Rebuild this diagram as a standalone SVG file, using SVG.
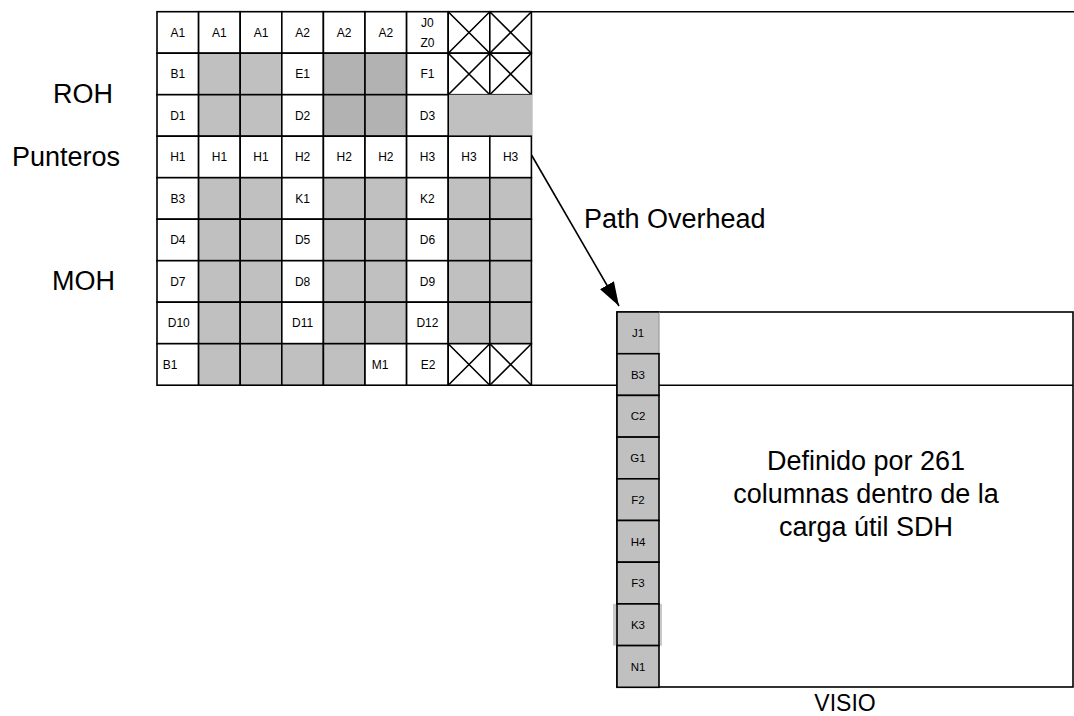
<svg xmlns="http://www.w3.org/2000/svg" width="1074" height="716" viewBox="0 0 1074 716">
<defs>
<style>
.c{stroke:#000;stroke-width:1.6;fill:#fff}
.g{stroke:#000;stroke-width:1.6;fill:#c0c0c0}
.d{stroke:#000;stroke-width:1.6;fill:#b2b2b2}
.x{stroke:#000;stroke-width:1.6;fill:none}
.t{font-family:"Liberation Sans",Arial,sans-serif;font-size:12px;fill:#000;text-anchor:middle}
.s{font-family:"Liberation Sans",Arial,sans-serif;font-size:11.5px;fill:#000;text-anchor:middle}
.b{font-family:"Liberation Sans",Arial,sans-serif;font-size:27px;fill:#000}
.ln{stroke:#000;stroke-width:1.6;fill:none}
</style>
<marker id="ah" markerUnits="userSpaceOnUse" markerWidth="24" markerHeight="16" refX="24" refY="8" orient="auto">
<path d="M0,0 L24,8 L0,16 z" fill="#000"/>
</marker>
</defs>
<rect width="1074" height="716" fill="#fff"/>

<g id="labels-left">
<text class="b" x="53" y="103">ROH</text>
<text class="b" x="12" y="166">Punteros</text>
<text class="b" x="52" y="290">MOH</text>
</g>

<g id="payload">
<rect class="c" x="617" y="312" width="456" height="375"/>
<text class="b" x="866" y="470" text-anchor="middle">Definido por 261</text>
<text class="b" x="866" y="503" text-anchor="middle">columnas dentro de la</text>
<text class="b" x="866" y="536" text-anchor="middle">carga útil SDH</text>
</g>

<g id="connectors">
<line class="ln" x1="531.4" y1="11.7" x2="1074" y2="11.7"/>
<line class="ln" x1="531.4" y1="385.2" x2="1073" y2="385.2"/>
<line class="ln" x1="531.5" y1="155" x2="619" y2="306" marker-end="url(#ah)"/>
<text class="b" x="584" y="228">Path Overhead</text>
</g>

<g id="grid">
<!-- row 0 -->
<g id="r0">
<rect class="c" x="157" y="11.7" width="41.6" height="41.5"/><text class="t" x="177.8" y="36.8">A1</text>
<rect class="c" x="198.6" y="11.7" width="41.6" height="41.5"/><text class="t" x="219.4" y="36.8">A1</text>
<rect class="c" x="240.2" y="11.7" width="41.6" height="41.5"/><text class="t" x="261" y="36.8">A1</text>
<rect class="c" x="281.8" y="11.7" width="41.6" height="41.5"/><text class="t" x="302.6" y="36.8">A2</text>
<rect class="c" x="323.4" y="11.7" width="41.6" height="41.5"/><text class="t" x="344.2" y="36.8">A2</text>
<rect class="c" x="365" y="11.7" width="41.6" height="41.5"/><text class="t" x="385.8" y="36.8">A2</text>
<rect class="c" x="406.6" y="11.7" width="41.6" height="41.5"/><text class="t" x="427.4" y="26.5">J0</text><text class="t" x="427.4" y="46.8">Z0</text>
<rect class="c" x="448.2" y="11.7" width="41.6" height="41.5"/><path class="x" d="M448.2,11.7 L489.8,53.2 M489.8,11.7 L448.2,53.2"/>
<rect class="c" x="489.8" y="11.7" width="41.6" height="41.5"/><path class="x" d="M489.8,11.7 L531.4,53.2 M531.4,11.7 L489.8,53.2"/>
</g>
<!-- row 1 -->
<g id="r1">
<rect class="c" x="157" y="53.2" width="41.6" height="41.5"/><text class="t" x="177.8" y="78.3">B1</text>
<rect class="g" x="198.6" y="53.2" width="41.6" height="41.5"/>
<rect class="g" x="240.2" y="53.2" width="41.6" height="41.5"/>
<rect class="c" x="281.8" y="53.2" width="41.6" height="41.5"/><text class="t" x="302.6" y="78.3">E1</text>
<rect class="d" x="323.4" y="53.2" width="41.6" height="41.5"/>
<rect class="d" x="365" y="53.2" width="41.6" height="41.5"/>
<rect class="c" x="406.6" y="53.2" width="41.6" height="41.5"/><text class="t" x="427.4" y="78.3">F1</text>
<rect class="c" x="448.2" y="53.2" width="41.6" height="41.5"/><path class="x" d="M448.2,53.2 L489.8,94.7 M489.8,53.2 L448.2,94.7"/>
<rect class="c" x="489.8" y="53.2" width="41.6" height="41.5"/><path class="x" d="M489.8,53.2 L531.4,94.7 M531.4,53.2 L489.8,94.7"/>
</g>
<!-- row 2 -->
<g id="r2">
<rect x="448.2" y="94.7" width="84.5" height="41.5" fill="#c0c0c0"/>
<rect class="c" x="157" y="94.7" width="41.6" height="41.5"/><text class="t" x="177.8" y="119.8">D1</text>
<rect class="g" x="198.6" y="94.7" width="41.6" height="41.5"/>
<rect class="g" x="240.2" y="94.7" width="41.6" height="41.5"/>
<rect class="c" x="281.8" y="94.7" width="41.6" height="41.5"/><text class="t" x="302.6" y="119.8">D2</text>
<rect class="d" x="323.4" y="94.7" width="41.6" height="41.5"/>
<rect class="d" x="365" y="94.7" width="41.6" height="41.5"/>
<rect class="c" x="406.6" y="94.7" width="41.6" height="41.5"/><text class="t" x="427.4" y="119.8">D3</text>
</g>
<!-- row 3 -->
<g id="r3">
<rect class="c" x="157" y="136.2" width="41.6" height="41.5"/><text class="t" x="177.8" y="161.3">H1</text>
<rect class="c" x="198.6" y="136.2" width="41.6" height="41.5"/><text class="t" x="219.4" y="161.3">H1</text>
<rect class="c" x="240.2" y="136.2" width="41.6" height="41.5"/><text class="t" x="261" y="161.3">H1</text>
<rect class="c" x="281.8" y="136.2" width="41.6" height="41.5"/><text class="t" x="302.6" y="161.3">H2</text>
<rect class="c" x="323.4" y="136.2" width="41.6" height="41.5"/><text class="t" x="344.2" y="161.3">H2</text>
<rect class="c" x="365" y="136.2" width="41.6" height="41.5"/><text class="t" x="385.8" y="161.3">H2</text>
<rect class="c" x="406.6" y="136.2" width="41.6" height="41.5"/><text class="t" x="427.4" y="161.3">H3</text>
<rect class="c" x="448.2" y="136.2" width="41.6" height="41.5"/><text class="t" x="469" y="161.3">H3</text>
<rect class="c" x="489.8" y="136.2" width="41.6" height="41.5"/><text class="t" x="510.6" y="161.3">H3</text>
</g>
<!-- rows 4-7 -->
<g id="r4">
<rect class="c" x="157" y="177.7" width="41.6" height="41.5"/><text class="t" x="177.8" y="202.8">B3</text>
<rect class="g" x="198.6" y="177.7" width="41.6" height="41.5"/>
<rect class="g" x="240.2" y="177.7" width="41.6" height="41.5"/>
<rect class="c" x="281.8" y="177.7" width="41.6" height="41.5"/><text class="t" x="302.6" y="202.8">K1</text>
<rect class="g" x="323.4" y="177.7" width="41.6" height="41.5"/>
<rect class="g" x="365" y="177.7" width="41.6" height="41.5"/>
<rect class="c" x="406.6" y="177.7" width="41.6" height="41.5"/><text class="t" x="427.4" y="202.8">K2</text>
<rect class="g" x="448.2" y="177.7" width="41.6" height="41.5"/>
<rect class="g" x="489.8" y="177.7" width="41.6" height="41.5"/>
</g>
<g id="r5">
<rect class="c" x="157" y="219.2" width="41.6" height="41.5"/><text class="t" x="177.8" y="244.3">D4</text>
<rect class="g" x="198.6" y="219.2" width="41.6" height="41.5"/>
<rect class="g" x="240.2" y="219.2" width="41.6" height="41.5"/>
<rect class="c" x="281.8" y="219.2" width="41.6" height="41.5"/><text class="t" x="302.6" y="244.3">D5</text>
<rect class="g" x="323.4" y="219.2" width="41.6" height="41.5"/>
<rect class="g" x="365" y="219.2" width="41.6" height="41.5"/>
<rect class="c" x="406.6" y="219.2" width="41.6" height="41.5"/><text class="t" x="427.4" y="244.3">D6</text>
<rect class="g" x="448.2" y="219.2" width="41.6" height="41.5"/>
<rect class="g" x="489.8" y="219.2" width="41.6" height="41.5"/>
</g>
<g id="r6">
<rect class="c" x="157" y="260.7" width="41.6" height="41.5"/><text class="t" x="177.8" y="285.8">D7</text>
<rect class="g" x="198.6" y="260.7" width="41.6" height="41.5"/>
<rect class="g" x="240.2" y="260.7" width="41.6" height="41.5"/>
<rect class="c" x="281.8" y="260.7" width="41.6" height="41.5"/><text class="t" x="302.6" y="285.8">D8</text>
<rect class="g" x="323.4" y="260.7" width="41.6" height="41.5"/>
<rect class="g" x="365" y="260.7" width="41.6" height="41.5"/>
<rect class="c" x="406.6" y="260.7" width="41.6" height="41.5"/><text class="t" x="427.4" y="285.8">D9</text>
<rect class="g" x="448.2" y="260.7" width="41.6" height="41.5"/>
<rect class="g" x="489.8" y="260.7" width="41.6" height="41.5"/>
</g>
<g id="r7">
<rect class="c" x="157" y="302.2" width="41.6" height="41.5"/><text class="t" x="178.8" y="327.3">D10</text>
<rect class="g" x="198.6" y="302.2" width="41.6" height="41.5"/>
<rect class="g" x="240.2" y="302.2" width="41.6" height="41.5"/>
<rect class="c" x="281.8" y="302.2" width="41.6" height="41.5"/><text class="t" x="302.6" y="327.3">D11</text>
<rect class="g" x="323.4" y="302.2" width="41.6" height="41.5"/>
<rect class="g" x="365" y="302.2" width="41.6" height="41.5"/>
<rect class="c" x="406.6" y="302.2" width="41.6" height="41.5"/><text class="t" x="427.4" y="327.3">D12</text>
<rect class="g" x="448.2" y="302.2" width="41.6" height="41.5"/>
<rect class="g" x="489.8" y="302.2" width="41.6" height="41.5"/>
</g>
<g id="r8">
<rect class="c" x="157" y="343.7" width="41.6" height="41.5"/><text class="t" x="170" y="368.8">B1</text>
<rect class="g" x="198.6" y="343.7" width="41.6" height="41.5"/>
<rect class="g" x="240.2" y="343.7" width="41.6" height="41.5"/>
<rect class="g" x="281.8" y="343.7" width="41.6" height="41.5"/>
<rect class="g" x="323.4" y="343.7" width="41.6" height="41.5"/>
<rect class="c" x="365" y="343.7" width="41.6" height="41.5"/><text class="t" x="380" y="368.8">M1</text>
<rect class="c" x="406.6" y="343.7" width="41.6" height="41.5"/><text class="t" x="428" y="368.8">E2</text>
<rect class="c" x="448.2" y="343.7" width="41.6" height="41.5"/><path class="x" d="M448.2,343.7 L489.8,385.2 M489.8,343.7 L448.2,385.2"/>
<rect class="c" x="489.8" y="343.7" width="41.6" height="41.5"/><path class="x" d="M489.8,343.7 L531.4,385.2 M531.4,343.7 L489.8,385.2"/>
</g>
</g>

<g id="poh-column">
<rect x="613" y="603.9" width="49" height="41.7" fill="#c8c8c8"/>
<g id="J1"><rect x="617" y="312" width="42" height="41.7" fill="#c0c0c0"/><path d="M659,312 V353.7" stroke="#9a9a9a" stroke-width="1.2"/><path class="ln" d="M659,312 H617 V353.7 H659"/><text class="s" x="638" y="337">J1</text></g>
<g id="B3"><rect class="g" x="617" y="353.7" width="42" height="41.7"/><text class="s" x="638" y="378.7">B3</text></g>
<g id="C2"><rect class="g" x="617" y="395.4" width="42" height="41.7"/><text class="s" x="638" y="420.4">C2</text></g>
<g id="G1"><rect class="g" x="617" y="437.1" width="42" height="41.7"/><text class="s" x="638" y="462.1">G1</text></g>
<g id="F2"><rect class="g" x="617" y="478.8" width="42" height="41.7"/><text class="s" x="638" y="503.8">F2</text></g>
<g id="H4"><rect class="g" x="617" y="520.5" width="42" height="41.7"/><text class="s" x="638" y="545.5">H4</text></g>
<g id="F3"><rect class="g" x="617" y="562.2" width="42" height="41.7"/><text class="s" x="638" y="587.2">F3</text></g>
<g id="K3"><rect class="g" x="617" y="603.9" width="42" height="41.7"/><text class="s" x="638" y="628.9">K3</text></g>
<g id="N1"><rect class="g" x="617" y="645.6" width="42" height="41.7"/><text class="s" x="638" y="670.6">N1</text></g>
</g>

<g id="footer">
<text class="b" x="845" y="711" text-anchor="middle" style="font-size:23px">VISIO</text>
</g>
</svg>
